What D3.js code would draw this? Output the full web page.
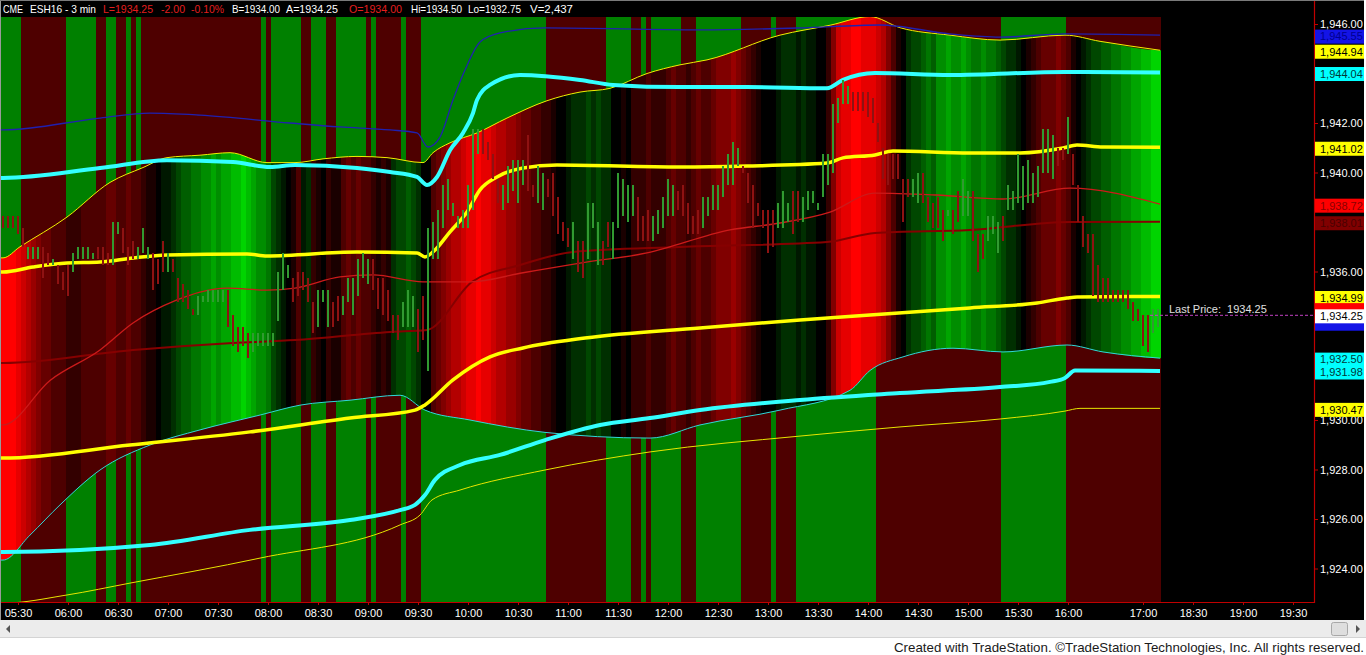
<!DOCTYPE html>
<html><head><meta charset="utf-8">
<script src="https://cdn.jsdelivr.net/npm/d3@7"></script>
<style>
html,body{margin:0;padding:0;background:#fff;overflow:hidden;}
svg{display:block;font-family:"Liberation Sans",Arial,sans-serif;}
</style></head><body>
<svg id="chart" width="1366" height="655"></svg>
<script>
// ---------------- DATA ----------------
const headerText = ["CME", "ESH16 - 3 min", "L=1934.25", "-2.00", "-0.10%", "B=1934.00", "A=1934.25", "O=1934.00", "Hi=1934.50", "Lo=1932.75", "V=2,437"];
const headerRed = [false, false, true, true, true, false, false, true, false, false, false];

const timeLabels = ["05:30","06:00","06:30","07:00","07:30","08:00","08:30","09:00","09:30","10:00","10:30","11:00","11:30","12:00","12:30","13:00","13:30","14:00","14:30","15:00","15:30","16:00","17:00","18:30","19:00","19:30"];
const timeTickIdx = [3,13,23,33,43,53,63,73,83,93,103,113,123,133,143,153,163,173,183,193,203,213,228,238,248,258];
const priceTicks = [1924,1926,1928,1930,1932,1934,1936,1938,1940,1942,1944,1946];

const highs = [1938.25,1938.25,1938.25,1938.25,1937.75,1937.0,1937.0,1937.0,1937.0,1936.75,
 1936.5,1936.25,1936.0,1936.25,1936.75,1937.0,1937.0,1937.0,1936.75,1937.0,
 1937.0,1936.75,1938.0,1938.0,1937.75,1937.0,1937.25,1937.0,1937.75,1937.0,
 1936.75,1936.5,1937.25,1936.75,1936.5,1935.75,1935.5,1935.25,1934.5,1935.0,
 1935.0,1935.25,1935.25,1935.25,1935.25,1935.25,1934.25,1933.75,1933.75,1933.5,
 1933.5,1933.5,1933.5,1933.5,1933.5,1936.0,1936.75,1936.25,1935.75,1936.0,
 1936.0,1935.75,1934.75,1935.25,1935.25,1935.25,1934.75,1935.0,1935.0,1935.75,
 1935.75,1936.5,1936.75,1936.5,1936.5,1935.75,1935.75,1935.25,1934.25,1934.25,
 1934.75,1935.25,1935.0,1934.5,1935.0,1937.75,1938.0,1938.5,1939.5,1939.75,
 1938.75,1938.25,1938.5,1939.5,1941.75,1941.75,1941.75,1941.25,1940.75,1939.75,
 1939.5,1940.25,1940.5,1940.5,1940.5,1941.5,1939.5,1940.25,1940.0,1939.75,
 1940.0,1939.0,1938.0,1937.75,1938.0,1937.25,1937.25,1938.75,1938.75,1938.0,
 1937.25,1938.0,1938.0,1940.0,1939.75,1939.5,1939.5,1939.0,1938.25,1938.5,
 1938.25,1938.5,1939.0,1939.75,1939.5,1939.25,1939.5,1938.75,1938.25,1938.5,
 1939.0,1939.0,1939.5,1939.5,1940.25,1940.75,1941.25,1941.0,1940.25,1940.0,
 1939.5,1938.75,1938.5,1938.5,1938.5,1938.75,1939.25,1938.75,1939.25,1939.25,
 1939.0,1939.25,1939.25,1938.75,1940.75,1940.75,1942.75,1943.0,1943.75,1943.5,
 1943.25,1943.25,1943.25,1943.25,1943.0,1942.0,1941.0,1940.75,1940.75,1940.75,
 1939.75,1939.75,1939.75,1940.0,1940.0,1939.0,1938.75,1939.0,1938.5,1938.5,
 1938.5,1939.25,1939.75,1939.25,1939.25,1937.5,1937.5,1938.25,1938.25,1938.0,
 1938.25,1939.5,1939.25,1940.75,1940.25,1940.5,1940.0,1940.25,1941.75,1941.75,
 1941.5,1941.0,1941.0,1942.25,1940.75,1939.5,1938.25,1937.5,1937.5,1936.25,
 1935.75,1935.75,1935.25,1935.25,1935.25,1935.25,1934.75,1934.5,1934.25,1934.25,
 1934.5,1934.5];
const lows = [1937.75,1937.75,1937.75,1937.5,1937.0,1936.5,1936.5,1936.5,1935.75,1936.25,
 1936.25,1935.5,1935.25,1935.0,1936.0,1936.5,1936.5,1936.5,1936.5,1936.5,
 1936.25,1936.25,1936.25,1937.5,1936.75,1936.25,1936.5,1936.5,1936.75,1936.5,
 1935.25,1935.5,1936.0,1936.0,1936.0,1934.75,1934.75,1934.5,1934.25,1934.25,
 1934.75,1934.75,1934.75,1934.75,1934.75,1933.75,1933.0,1932.75,1933.0,1932.5,
 1932.75,1933.0,1933.0,1933.0,1933.0,1934.0,1935.25,1935.75,1934.75,1935.0,
 1935.25,1934.75,1933.5,1933.75,1934.75,1933.75,1933.75,1934.0,1934.25,1934.75,
 1934.25,1935.0,1935.75,1935.5,1935.25,1934.5,1934.25,1934.0,1933.5,1933.25,
 1933.75,1933.75,1933.75,1932.75,1933.25,1932.0,1936.5,1936.5,1937.75,1938.5,
 1938.25,1937.75,1937.75,1937.75,1938.5,1940.75,1940.75,1940.5,1939.75,1938.75,
 1938.5,1938.75,1939.25,1938.75,1939.5,1939.25,1939.0,1938.75,1938.5,1939.0,
 1938.25,1937.5,1937.25,1937.0,1936.5,1936.0,1935.75,1936.5,1937.75,1936.25,
 1936.25,1937.0,1936.5,1937.75,1938.25,1938.0,1938.25,1937.25,1937.25,1937.25,
 1937.25,1937.5,1937.75,1938.25,1938.25,1938.5,1938.25,1937.5,1937.5,1937.5,
 1937.75,1938.25,1938.5,1938.5,1939.0,1939.5,1939.5,1940.25,1940.0,1938.75,
 1937.75,1938.25,1937.75,1936.75,1937.0,1937.75,1937.75,1938.0,1937.5,1938.0,
 1938.0,1938.5,1938.75,1938.5,1939.0,1939.5,1940.0,1942.0,1942.75,1942.75,
 1942.5,1942.5,1942.5,1942.25,1942.0,1941.25,1939.75,1939.5,1939.75,1939.75,
 1938.0,1939.0,1939.0,1938.75,1938.75,1938.0,1937.75,1937.75,1937.25,1938.25,
 1937.5,1938.0,1938.25,1938.25,1937.25,1936.0,1936.5,1937.25,1937.5,1936.75,
 1937.25,1938.5,1938.5,1938.75,1938.5,1938.75,1938.75,1939.0,1940.0,1940.0,
 1939.75,1940.25,1940.5,1940.75,1939.5,1938.0,1937.0,1936.75,1935.0,1934.75,
 1934.75,1934.75,1934.75,1934.75,1934.75,1934.5,1934.0,1934.0,1933.0,1932.75,
 1933.5,1933.75];
// g = up bar, r = down bar
const barDir = ("rrrrrgggrr"+"grrrgggggr"+"rrggrrrggg"+"rrrgrrrrrg"+"gggggrrrrr"+"ggggggggrr"+"rrrgggrrgg"+"ggggrrrrrr"+"gggrrggggg"+"ggggggrrrr"+
 "gggggrrggr"+"rrrrgrrggg"+"rrgggggrrr"+"gggggrrrrr"+"ggggggggrr"+"rrrrrgggrr"+"gggggggggg"+"rrrrrrrrrr"+"rrggrrrrrg"+"rrggrrrggg"+
 "rggggggggg"+"grrgrrrrrr"+"rrrrrrrrrr"+"gg").split("");
// 1 = bullish state outside the envelope, 0 = bearish
const outerState = ("1111000000"+"0001111110"+"0110010100"+"0000000000"+"0000000000"+"0010111111"+"0011100111"+"1110100000"+"1000111111"+"1111111111"+
 "1111111110"+"0000000000"+"0111110010"+"1111110001"+"1111111100"+"0000100001"+"1111111111"+"1111100000"+"0000000000"+"0000000000"+
 "1111111111"+"1110000000"+"0000000000"+"00").split("").map(Number);
// oscillator inside the envelope, -10 (strong bear) .. +10 (strong bull)
const innerOsc = [-10,-10,-10,-9,
 -8,-7,-6,-5,-4,-4,-3,-3,
 -3,-2,-2,-2,-3,-3,-3,-3,-3,-4,-4,-3,-3,-4,-3,-3,
 -2,-1,-1,0,1,1,2,3,4,4,5,5,6,6,7,6,7,7,8,8,9,8,7,6,6,5,3,2,1,0,-1,
 -3, 1,2, -2,-1,0,-2,-1,-1, -3,-4,-3,-4,-3,-3, -2,-1,-2,-1, 2,3,3,4,3,2, 0,0,
 -3,-4,-5,-6,-7,-7,-8, -9,-9,-10,-9,-9, -8,-7,-7,-6,-6,-5, -4,-4,-3,-3,-2,-2,
 -1,0,0,1, 2,2, 2,3,2,3,2,2, 0,0,-1,0, -2,-2,-2,-3,-2,-2,-2,
 -3,-4,-3,-3,-2,-3,-4,-3,-3, -4,-5,-5,-5,-6,-5,-4, -3,-2,-1, 0,0,0,1,
 2,2,2,1,2,1,1,0, 0,-2,-5, -8,-9,-9,-10,-10,-9,-9, -9,-8,-7, -5,-3, -1,0,
 2,3,3,4,5,4, 6,6,7,6,6,7,6, 5,5,6,5,5,4, 3,2,2,1, 0,-1,-2,
 -3,-4,-4,-4,-5,-4,-3, -1,0,1, 2,3,3,4,4,5,5, 6,6,7,7,8,8,9,9];

// indicator series: [bar index, price]
const upperEnvelope = [[0,1936.55],[3.4,1937.0],[12.8,1938.2],[21.4,1939.6],[28,1940.2],[32.8,1940.6],[39.4,1940.7],[45.4,1940.8],[52.8,1940.4],[58.4,1940.4],[64,1940.55],[70.8,1940.65],[76.8,1940.6],[84,1940.4],[86,1940.8],[89.4,1941.2],[94.8,1941.6],[100.8,1942.2],[108.8,1942.9],[115.4,1943.25],[121.4,1943.4],[128.8,1944.0],[135.4,1944.35],[140.8,1944.55],[155.4,1945.55],[165.4,1945.95],[173.4,1946.3],[179.4,1945.85],[189.4,1945.55],[199.4,1945.35],[212.4,1945.55],[219.4,1945.3],[231.4,1944.94]];
const lowerEnvelope = [[0,1924.34],[5.4,1925.35],[11.4,1926.57],[19.4,1927.98],[29.4,1928.99],[39.4,1929.6],[51.4,1930.2],[59.4,1930.6],[69.4,1930.8],[79.4,1931.0],[84.4,1930.4],[93.4,1930.0],[108.4,1929.5],[129.4,1929.27],[139.4,1929.8],[155.4,1930.4],[169.4,1931.2],[173.4,1932.0],[180,1932.55],[190,1932.9],[200,1932.75],[212.8,1933.03],[220,1932.75],[231.4,1932.5]];
const cyanUpper = [[0,1939.78],[19.4,1940.18],[32.8,1940.5],[46,1940.42],[53.4,1940.22],[58.4,1940.3],[70.8,1940.18],[77.4,1940.02],[82.8,1939.82],[84.8,1939.5],[86.8,1939.82],[89.4,1940.9],[92,1941.6],[94,1942.4],[94.8,1942.93],[97.4,1943.54],[103.4,1943.94],[115.4,1943.74],[122,1943.54],[135.4,1943.45],[148.8,1943.45],[164.8,1943.4],[168,1943.74],[174.4,1944.02],[189.4,1943.94],[212.4,1944.06],[231.4,1944.04]];
const cyanLower = [[0,1924.67],[29.4,1924.95],[49.4,1925.56],[69.4,1925.96],[79.4,1926.36],[82.4,1926.57],[84.4,1926.97],[86.4,1927.58],[91.4,1928.18],[99.4,1928.59],[108.4,1929.19],[119.4,1929.8],[129.4,1930.08],[139.4,1930.4],[159.4,1930.81],[179.4,1931.09],[199.4,1931.33],[209.4,1931.54],[212.4,1931.7],[214.4,1932.0],[231.4,1931.98]];
const yellowUpper = [[0,1935.98],[6,1936.18],[12.8,1936.34],[19.4,1936.38],[26,1936.55],[32.8,1936.67],[48.8,1936.71],[52.8,1936.63],[70.8,1936.79],[82.8,1936.75],[84.4,1936.59],[86,1936.79],[89.4,1937.6],[92.8,1938.4],[95.4,1939.3],[98.8,1939.82],[104,1940.18],[110.8,1940.3],[135.4,1940.22],[148.8,1940.26],[164.8,1940.38],[168,1940.59],[174.4,1940.71],[178,1940.87],[193.4,1940.79],[203.4,1940.79],[212,1940.99],[214.8,1941.11],[220,1941.03],[231.4,1941.02]];
const yellowLower = [[0,1928.46],[25.4,1928.99],[49.4,1929.52],[69.4,1930.08],[82.4,1930.4],[84.4,1930.61],[90,1931.62],[97.4,1932.55],[104,1932.91],[116.4,1933.31],[139.4,1933.72],[159.4,1934.04],[173.4,1934.24],[193.4,1934.53],[206.8,1934.73],[212.8,1934.93],[214.8,1934.97],[231.4,1934.99]];
const blueUpper = [[0,1941.72],[19.4,1942.2],[29.4,1942.4],[39.4,1942.32],[57.4,1942.0],[67.4,1941.84],[77.4,1941.72],[82.8,1941.6],[85,1941.03],[87.4,1941.43],[90,1942.93],[92.4,1944.14],[95.4,1945.27],[99.4,1945.64],[108.4,1945.84],[139.4,1945.76],[159.4,1945.84],[175.4,1945.96],[189.4,1945.6],[199.4,1945.47],[212.4,1945.6],[231.4,1945.55]];
const redFast = [[0,1929.8],[9.4,1931.6],[19.4,1932.83],[26,1933.92],[34.8,1934.85],[39.4,1935.17],[44.8,1935.33],[52.8,1935.25],[58.4,1935.33],[67.4,1935.78],[74,1935.86],[84,1935.58],[93.4,1935.58],[104,1935.95],[115.4,1936.34],[128.8,1936.75],[145.4,1937.68],[155.4,1937.96],[165.4,1938.4],[174.4,1939.17],[186.8,1939.09],[200,1938.93],[213.4,1939.37],[231.4,1938.72]];
const redSlow = [[0,1932.3],[26,1932.83],[46,1933.11],[58.4,1933.23],[77.4,1933.56],[84.8,1933.64],[93.8,1935.58],[103.4,1936.26],[114,1936.79],[135.4,1936.99],[164.8,1937.19],[174.4,1937.56],[193.4,1937.68],[213.4,1938.0],[231.4,1938.01]];
const yellowThinLower = [[0,1922.6],[12.8,1922.93],[25.4,1923.41],[51.4,1924.42],[79.4,1925.76],[83.4,1926.16],[85.8,1926.77],[91.4,1927.17],[108.4,1927.98],[129.4,1928.71],[159.4,1929.35],[179.4,1929.72],[199.4,1930.04],[212.4,1930.36],[215.4,1930.47],[231.4,1930.47]];
const lastPrice = 1934.25;
const extraMarkers = [1934.50, 1933.95];
const footerText = "Created with TradeStation. \u00A9TradeStation Technologies, Inc. All rights reserved.";

// ---------------- DRAWING ----------------
const W = 1366, H = 655;
const plotTop = 17, plotBottom = 602, axisX = 1314, rightEdge = 1364;
const FONT = '"Liberation Sans", Arial, sans-serif';
const svg = d3.select('#chart');
const x = d3.scaleLinear().domain([-0.6, 262.2]).range([0, axisX]);
const y = d3.scaleLinear().domain([1924, 1946]).range([568.5, 24]);
const bars = d3.range(highs.length);

svg.append('rect').attr('width', W).attr('height', H).attr('fill', '#fff');
svg.append('rect').attr('x', 0).attr('y', 0).attr('width', rightEdge).attr('height', 620).attr('fill', '#000');

const defs = svg.append('defs');
defs.append('clipPath').attr('id', 'plotClip').append('rect')
  .attr('x', 0).attr('y', plotTop).attr('width', axisX).attr('height', plotBottom - plotTop);

const plot = svg.append('g').attr('clip-path', 'url(#plotClip)');
const bw = x(1) - x(0);

// outer state stripes
plot.append('g').attr('shape-rendering', 'crispEdges').selectAll('rect').data(bars).join('rect')
  .attr('x', i => x(i - 0.5)).attr('width', bw)
  .attr('y', plotTop).attr('height', plotBottom - plotTop)
  .attr('fill', i => outerState[i] ? '#008000' : '#4e0000');

// inner oscillator stripes, clipped between envelopes
const ext = pts => [[-1.5, pts[0][1]], ...pts, [234, pts[pts.length - 1][1]]];
const belowUpper = d3.area().x(d => x(d[0])).y0(plotBottom + 10).y1(d => y(d[1])).curve(d3.curveMonotoneX);
const aboveLower = d3.area().x(d => x(d[0])).y0(plotTop - 10).y1(d => y(d[1])).curve(d3.curveMonotoneX);
defs.append('clipPath').attr('id', 'clipU').append('path').attr('d', belowUpper(ext(upperEnvelope)));
defs.append('clipPath').attr('id', 'clipL').append('path').attr('d', aboveLower(ext(lowerEnvelope)));
const innerColor = v => v < 0 ? d3.rgb(Math.round(-v * 25.5), 0, 0) : d3.rgb(0, Math.round(v * 23.5), 0);
plot.append('g').attr('clip-path', 'url(#clipU)').append('g').attr('clip-path', 'url(#clipL)')
  .attr('shape-rendering', 'crispEdges')
  .selectAll('rect').data(bars).join('rect')
  .attr('x', i => x(i - 0.5)).attr('width', bw)
  .attr('y', plotTop).attr('height', plotBottom - plotTop)
  .attr('fill', i => innerColor(innerOsc[i]));

// indicator lines
const line = d3.line().x(d => x(d[0])).y(d => y(d[1])).curve(d3.curveMonotoneX);
const extL = pts => [[-0.6, pts[0][1]], ...pts];
const lineSpecs = [
  [yellowThinLower, '#e6e600', 1],
  [lowerEnvelope, '#30d8d8', 1],
  [upperEnvelope, '#f0f000', 1],
  [blueUpper, '#2020b0', 1.3],
  [redSlow, '#860000', 2],
  [redFast, '#cc1a1a', 1.3],
  [yellowLower, '#ffff00', 3.5],
  [yellowUpper, '#ffff00', 3.5],
  [cyanLower, '#33ffff', 4],
  [cyanUpper, '#33ffff', 4]
];
const lg = plot.append('g');
lineSpecs.forEach(([pts, col, w]) => {
  lg.append('path').attr('d', line(extL(pts))).attr('fill', 'none')
    .attr('stroke', col).attr('stroke-width', w).attr('stroke-linejoin', 'round');
});

// price bars
plot.append('g').attr('shape-rendering', 'crispEdges').selectAll('rect').data(bars).join('rect')
  .attr('x', i => Math.round(x(i)) - 1).attr('width', 2)
  .attr('y', i => y(highs[i])).attr('height', i => Math.max(1.5, y(lows[i]) - y(highs[i])))
  .attr('fill', i => barDir[i] === 'g' ? '#319a31' : '#8e1212');

// last price line + text
const yLast = y(lastPrice);
svg.append('line').attr('x1', 1150).attr('x2', axisX).attr('y1', yLast + 0.5).attr('y2', yLast + 0.5)
  .attr('stroke', '#c040c0').attr('stroke-width', 1).attr('stroke-dasharray', '3,2');
svg.append('text').attr('x', 1169).attr('y', yLast - 2).attr('fill', '#e0e0e0')
  .attr('font-size', 11).attr('font-family', FONT).style('white-space', 'pre')
  .text('Last Price:  ' + lastPrice.toFixed(2));

// value boxes on the price axis: [value, fill, text colour, show text]
const last = s => s[s.length - 1][1];
const boxes = [
  [last(blueUpper), '#1414e6', '#000090', true],
  [last(upperEnvelope), '#ffff00', '#000', true],
  [last(cyanUpper), '#00ffff', '#003838', true],
  [last(yellowUpper), '#ffff00', '#000', true],
  [last(redFast), '#ff0000', '#8a0000', true],
  [last(redSlow), '#800000', '#4a0000', true],
  [last(yellowLower), '#ffff00', '#000', true],
  [extraMarkers[0], '#ff0000', '#8a0000', false],
  [extraMarkers[1], '#1414e6', '#000090', false],
  [lastPrice, '#ffffff', '#000', true],
  [last(lowerEnvelope), '#00ffff', '#003838', true],
  [last(cyanLower), '#00ffff', '#003838', true],
  [last(yellowThinLower), '#ffff00', '#000', true]
];

// right axis (tick labels covered by value boxes are hidden, as on the platform)
const covered = v => boxes.some(b => Math.abs(y(b[0]) + 1.5 - y(v)) < 9);
const gy = svg.append('g').attr('transform', `translate(${axisX},0)`)
  .call(d3.axisRight(y).tickValues(priceTicks).tickFormat(d => covered(d) ? '' : d3.format(',.2f')(d)).tickSize(4).tickPadding(2));
gy.select('.domain').remove();
gy.selectAll('line').attr('stroke', '#c00000');
gy.selectAll('text').attr('fill', '#fff').attr('font-size', 11).attr('font-family', FONT);

// bottom axis
const gx = svg.append('g').attr('transform', `translate(0,${plotBottom})`)
  .call(d3.axisBottom(x).tickValues(timeTickIdx).tickFormat((d, i) => timeLabels[i]).tickSize(3).tickPadding(4));
gx.select('.domain').remove();
gx.selectAll('line').attr('stroke', '#c00000');
gx.selectAll('text').attr('fill', '#fff').attr('font-size', 11).attr('font-family', FONT);

// axis lines
svg.append('line').attr('x1', axisX + 0.5).attr('x2', axisX + 0.5).attr('y1', 0).attr('y2', plotBottom + 1)
  .attr('stroke', '#c00000').attr('stroke-width', 1.2);
svg.append('line').attr('x1', 0).attr('x2', axisX + 1).attr('y1', plotBottom + 0.5).attr('y2', plotBottom + 0.5)
  .attr('stroke', '#c00000').attr('stroke-width', 1.2);

const fmt = d3.format(',.2f');
const bg = svg.append('g');
boxes.forEach(([v, fill, tc, show]) => {
  const cy = y(v) + 1.5;
  bg.append('rect').attr('x', axisX + 1).attr('y', cy - 7).attr('width', rightEdge - axisX - 1).attr('height', 14).attr('fill', fill);
  if (show) {
    bg.append('text').attr('x', axisX + 6).attr('y', cy).attr('dy', '0.35em').attr('fill', tc)
      .attr('font-size', 11).attr('font-family', FONT).text(fmt(v));
  }
});

// header
const headerX = [3, 30, 103, 161, 191, 232, 286, 349, 411, 468, 530];
const headerW = [20, 66, 50, 24, 33, 48, 52, 53, 51, 53, 43];
headerText.forEach((t, i) => {
  svg.append('text').attr('x', headerX[i]).attr('y', 13).attr('fill', headerRed[i] ? '#e41e1e' : '#ffffff')
    .attr('font-size', 11.5).attr('font-family', FONT)
    .attr('textLength', headerW[i]).attr('lengthAdjust', 'spacingAndGlyphs').text(t);
});

// frame
svg.append('line').attr('x1', 0.5).attr('x2', 0.5).attr('y1', 0).attr('y2', 638).attr('stroke', '#9a9a9a');
svg.append('line').attr('x1', 0).attr('x2', rightEdge).attr('y1', 0.5).attr('y2', 0.5).attr('stroke', '#7a7a7a');

// scrollbar
svg.append('rect').attr('x', 0).attr('y', 620).attr('width', W).attr('height', 18).attr('fill', '#ececec');
svg.append('line').attr('x1', 0).attr('x2', W).attr('y1', 637.5).attr('y2', 637.5).attr('stroke', '#d4d4d4');
svg.append('path').attr('d', 'M6,629 L10,625 L10,633 Z').attr('fill', '#555');
svg.append('rect').attr('x', 1331.5).attr('y', 622.5).attr('width', 16).attr('height', 13).attr('rx', 2)
  .attr('fill', '#dedede').attr('stroke', '#a8a8a8');
svg.append('path').attr('d', 'M1360,629 L1356,625 L1356,633 Z').attr('fill', '#555');

// footer
svg.append('text').attr('x', 1364).attr('y', 652).attr('text-anchor', 'end').attr('fill', '#1a1a1a')
  .attr('font-size', 13).attr('font-family', FONT)
  .attr('textLength', 470).attr('lengthAdjust', 'spacingAndGlyphs').text(footerText);
</script>
</body></html>
